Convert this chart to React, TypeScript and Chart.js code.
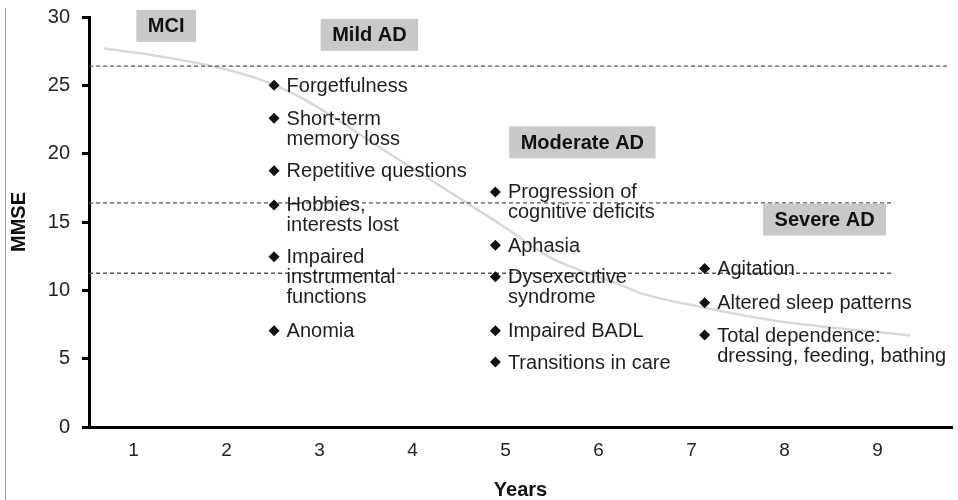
import React, { useEffect, useRef } from "react";
import { Chart, registerables } from "chart.js";

Chart.register(...registerables);

// ---- data ----
const xTicks = [1, 2, 3, 4, 5, 6, 7, 8, 9];
const yTicks = [0, 5, 10, 15, 20, 25, 30];

const curveYears = [0.68, 1.3, 1.91, 2.37, 2.8, 3.66, 4.49, 4.95, 5.48, 6.2, 6.45, 7.09, 7.88, 9.35];
const curveMMSE = [27.7, 27.1, 26.3, 25.4, 24.1, 20.4, 16.8, 14.8, 12.4, 10.5, 9.8, 8.8, 7.8, 6.7];

const thresholdMMSE = [26.4, 16.4, 11.25];
const thresholdStart = [0.52, 0.52, 0.52];
const thresholdEnd = [9.75, 9.15, 9.15];

const stageNames = ["MCI", "Mild AD", "Moderate AD", "Severe AD"];
const stageYears = [1.35, 3.535, 5.825, 8.43];
const stageMMSE = [29.35, 28.7, 20.83, 15.18];

const mildSymptoms = [
  ["Forgetfulness"],
  ["Short-term", "memory loss"],
  ["Repetitive questions"],
  ["Hobbies,", "interests lost"],
  ["Impaired", "instrumental", "functions"],
  ["Anomia"],
];
const mildYear = 2.51;
const mildMMSE = [25.0, 22.6, 18.75, 16.25, 12.45, 7.05];

const moderateSymptoms = [
  ["Progression of", "cognitive deficits"],
  ["Aphasia"],
  ["Dysexecutive", "syndrome"],
  ["Impaired BADL"],
  ["Transitions in care"],
];
const moderateYear = 4.89;
const moderateMMSE = [17.2, 13.3, 11.0, 7.05, 4.75];

const severeSymptoms = [
  ["Agitation"],
  ["Altered sleep patterns"],
  ["Total dependence:", "dressing, feeding, bathing"],
];
const severeYear = 7.14;
const severeMMSE = [11.6, 9.1, 6.73];

const FONT = '"Liberation Sans", Arial, Helvetica, sans-serif';

const annotationPlugin = {
  id: "stageAnnotations",
  afterDatasetsDraw(chart: any) {
    const { ctx, scales } = chart;
    const xs = scales.x;
    const ys = scales.y;
    ctx.save();
    ctx.font = `20px ${FONT}`;
    ctx.fillStyle = "#1e1e1e";
    ctx.textAlign = "left";
    ctx.textBaseline = "middle";
    const columns: [number, number[], string[][]][] = [
      [mildYear, mildMMSE, mildSymptoms],
      [moderateYear, moderateMMSE, moderateSymptoms],
      [severeYear, severeMMSE, severeSymptoms],
    ];
    columns.forEach(([yr, vals, texts]) => {
      vals.forEach((v, i) => {
        const px = xs.getPixelForValue(yr) + 12.5;
        const py = ys.getPixelForValue(v);
        texts[i].forEach((line, j) => ctx.fillText(line, px, py + 1 + j * 20));
      });
    });

    ctx.font = `bold 20px ${FONT}`;
    ctx.textAlign = "center";
    stageNames.forEach((name, i) => {
      const cx = xs.getPixelForValue(stageYears[i]);
      const cy = ys.getPixelForValue(stageMMSE[i]);
      const w = ctx.measureText(name).width + 23;
      const h = 32;
      ctx.fillStyle = "#c9c9c9";
      ctx.fillRect(cx - w / 2, cy - h / 2, w, h);
      ctx.fillStyle = "#111";
      ctx.fillText(name, cx, cy + 1);
    });
    ctx.restore();
  },
};

export default function App() {
  const canvasRef = useRef<HTMLCanvasElement | null>(null);

  useEffect(() => {
    document.body.style.margin = "0";
    const canvas = canvasRef.current;
    if (!canvas) return;

    const diamonds = [
      ...mildMMSE.map((v) => ({ x: mildYear, y: v })),
      ...moderateMMSE.map((v) => ({ x: moderateYear, y: v })),
      ...severeMMSE.map((v) => ({ x: severeYear, y: v })),
    ];

    const thresholdSets = thresholdMMSE.map((v, i) => ({
      type: "line" as const,
      data: [
        { x: thresholdStart[i], y: v },
        { x: thresholdEnd[i], y: v },
      ],
      borderColor: "#555",
      borderWidth: 1.3,
      borderDash: [4, 3],
      pointRadius: 0,
      fill: false,
      order: 2,
    }));

    const chart = new Chart(canvas, {
      type: "scatter",
      data: {
        datasets: [
          {
            type: "line",
            data: curveYears.map((x, i) => ({ x, y: curveMMSE[i] })),
            borderColor: "#d8d8d8",
            borderWidth: 2.5,
            pointRadius: 0,
            cubicInterpolationMode: "monotone",
            fill: false,
            order: 3,
          } as any,
          ...(thresholdSets as any[]),
          {
            type: "scatter",
            data: diamonds,
            pointStyle: "rectRot",
            pointRadius: 5.5,
            backgroundColor: "#111",
            borderWidth: 0,
            order: 1,
          } as any,
        ],
      },
      options: {
        animation: false,
        responsive: true,
        maintainAspectRatio: false,
        layout: { padding: { left: 0, top: 17, right: 6, bottom: 0 } },
        plugins: {
          legend: { display: false },
          tooltip: { enabled: false },
        },
        scales: {
          x: {
            type: "linear",
            min: 0.52,
            max: 9.8,
            afterFit: (scale: any) => {
              scale.height = 73;
              scale.paddingLeft = 0;
              scale.paddingRight = 0;
            },
            afterBuildTicks: (scale: any) => {
              scale.ticks = xTicks.map((v) => ({ value: v }));
            },
            grid: { display: false, drawTicks: false },
            border: { display: true, color: "#000", width: 3 },
            ticks: {
              padding: 12,
              color: "#222",
              font: { family: FONT, size: 19 },
              callback: (v: any) => String(v),
            },
            title: {
              display: true,
              text: "Years",
              color: "#111",
              font: { family: FONT, size: 20, weight: "bold", lineHeight: 1 },
              padding: 0,
            },
          },
          y: {
            type: "linear",
            min: 0,
            max: 30,
            afterFit: (scale: any) => {
              scale.width = 89;
              scale.paddingTop = 0;
              scale.paddingBottom = 0;
            },
            afterBuildTicks: (scale: any) => {
              scale.ticks = yTicks.map((v) => ({ value: v }));
            },
            grid: {
              display: true,
              drawOnChartArea: false,
              drawTicks: true,
              tickLength: 7,
              tickWidth: 3,
              tickColor: "#000",
            },
            border: { display: true, color: "#000", width: 3 },
            ticks: {
              padding: 12,
              color: "#222",
              font: { family: FONT, size: 20 },
            },
            title: {
              display: true,
              text: "MMSE",
              color: "#111",
              font: { family: FONT, size: 20, weight: "bold", lineHeight: 1 },
              padding: { top: 9, bottom: 0 },
            },
          },
        },
      },
      plugins: [annotationPlugin],
    } as any);

    return () => chart.destroy();
  }, []);

  return (
    <div style={{ position: "relative", width: 958, height: 500, background: "#fff", overflow: "hidden" }}>
      <div style={{ position: "absolute", left: 5, top: 8, width: 1, height: 492, background: "#b8916e" }} />
      <canvas ref={canvasRef} />
    </div>
  );
}
